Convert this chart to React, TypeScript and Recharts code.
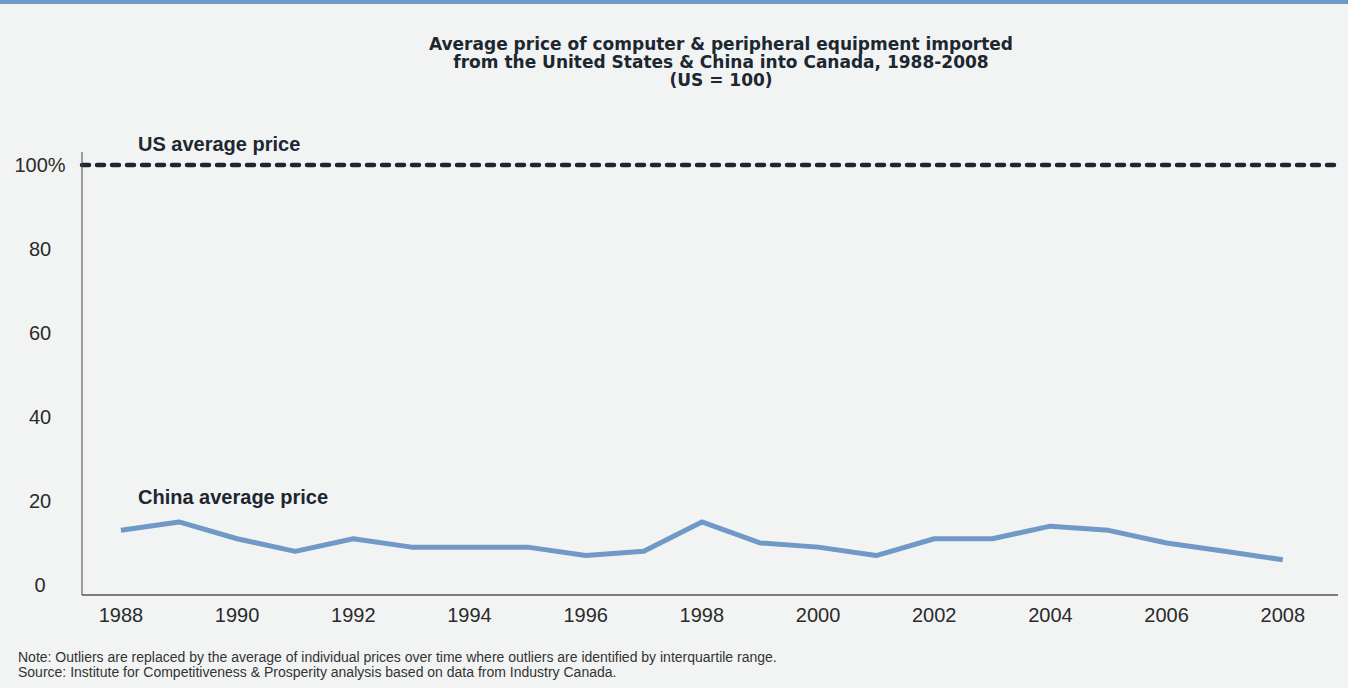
import { LineChart, Line, XAxis, YAxis, ReferenceLine } from "recharts";

const years = [
  1988, 1989, 1990, 1991, 1992, 1993, 1994, 1995, 1996, 1997, 1998, 1999, 2000, 2001, 2002, 2003,
  2004, 2005, 2006, 2007, 2008,
];
const chinaPrice = [13, 15, 11, 8, 11, 9, 9, 9, 7, 8, 15, 10, 9, 7, 11, 11, 14, 13, 10, 8, 6];
const usPrice = 100;
const yTicks = [0, 20, 40, 60, 80, 100];
const xTicks = [1988, 1990, 1992, 1994, 1996, 1998, 2000, 2002, 2004, 2006, 2008];

const titleLines = [
  "Average price of computer & peripheral equipment imported",
  "from the United States & China into Canada, 1988-2008",
  "(US = 100)",
];
const notes = [
  "Note: Outliers are replaced by the average of individual prices over time where outliers are identified by interquartile range.",
  "Source: Institute for Competitiveness & Prosperity analysis based on data from Industry Canada.",
];

const data = years.map((year, i) => ({ year, china: chinaPrice[i] }));

const FONT = '"Liberation Sans", Arial, Helvetica, sans-serif';
const INK = "#1c2731";
const TICK = "#2b2b2b";

// y labels sit centred left of the axis, not right-aligned
function YTick({ y, payload }: any) {
  return (
    <text x={40} y={y} dy="0.36em" textAnchor="middle" fill={TICK} fontSize={20} fontFamily={FONT}>
      {payload.value === 100 ? "100%" : payload.value}
    </text>
  );
}

export default function App() {
  return (
    <div
      style={{
        position: "absolute",
        left: 0,
        top: 0,
        width: 1348,
        height: 688,
        background: "#f2f4f3",
        fontFamily: FONT,
        overflow: "hidden",
      }}
    >
      <div style={{ position: "absolute", left: 0, top: 0, width: 1348, height: 4, background: "#7199c5" }} />
      <div
        style={{
          position: "absolute",
          left: 0,
          width: 1442,
          top: 35,
          textAlign: "center",
          fontWeight: 700,
          fontSize: 17,
          lineHeight: "18px",
          fontFamily: '"DejaVu Sans", sans-serif',
          color: INK,
        }}
      >
        {titleLines.map((t) => (
          <div key={t}>{t}</div>
        ))}
      </div>

      <LineChart
        width={1348}
        height={688}
        data={data}
        margin={{ top: 152, right: 10, left: 0, bottom: 0 }}
      >
        <XAxis
          dataKey="year"
          type="number"
          domain={[1987.33, 2008.95]}
          ticks={xTicks}
          height={93}
          tickLine={false}
          tickSize={0}
          tickMargin={13}
          axisLine={{ stroke: "#555", strokeWidth: 1.5 }}
          tick={{ fill: TICK, fontSize: 20, fontFamily: FONT }}
        />
        <YAxis
          type="number"
          domain={[-2.4, 103.1]}
          ticks={yTicks}
          width={82}
          tickLine={false}
          axisLine={{ stroke: "#444", strokeWidth: 1 }}
          tick={<YTick />}
        />
        <ReferenceLine
          y={usPrice}
          stroke={INK}
          strokeWidth={4.5}
          strokeDasharray="7 8"
          strokeLinecap="round"
        />
        <Line
          dataKey="china"
          stroke="#7099c8"
          strokeWidth={5}
          dot={false}
          strokeLinejoin="round"
          isAnimationActive={false}
        />
      </LineChart>

      <div
        style={{ position: "absolute", left: 138, top: 133, fontSize: 20, fontWeight: 700, color: INK }}
      >
        US average price
      </div>
      <div
        style={{ position: "absolute", left: 138, top: 486, fontSize: 20, fontWeight: 700, color: INK }}
      >
        China average price
      </div>

      <div
        style={{
          position: "absolute",
          left: 18,
          top: 650,
          fontSize: 14,
          lineHeight: "15px",
          color: "#333",
        }}
      >
        {notes.map((n) => (
          <div key={n}>{n}</div>
        ))}
      </div>
    </div>
  );
}
